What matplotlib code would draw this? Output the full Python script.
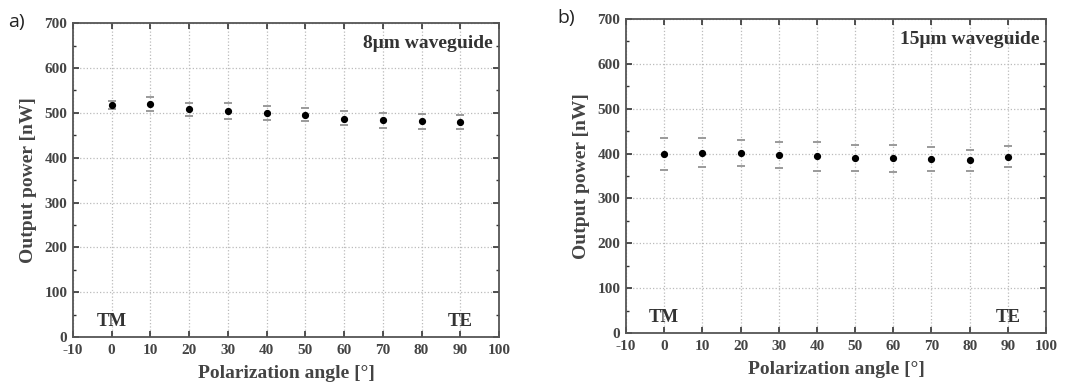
import matplotlib
matplotlib.use("Agg")
import matplotlib.pyplot as plt
import numpy as np
from matplotlib.ticker import MultipleLocator

plt.rcParams["axes.unicode_minus"] = False

angles = [0, 10, 20, 30, 40, 50, 60, 70, 80, 90]

p8 = [518, 519, 508, 503, 499, 495, 487, 483, 481, 479]
p8_hi = [527, 535, 523, 521, 516, 510, 503, 500, 498, 496]
p8_lo = [509, 503, 492, 486, 485, 482, 472, 467, 465, 465]

p15 = [399, 402, 401, 397, 394, 391, 391, 387, 385, 392]
p15_hi = [434, 434, 430, 425, 425, 420, 420, 414, 408, 417]
p15_lo = [364, 369, 372, 367, 362, 362, 359, 362, 362, 369]

panels = [
    dict(label="a)", title="8\u03bcm waveguide", y=p8, hi=p8_hi, lo=p8_lo,
         pos=[0.068, 0.140, 0.398, 0.801], lab_xy=(0.008, 0.945)),
    dict(label="b)", title="15\u03bcm waveguide", y=p15, hi=p15_hi, lo=p15_lo,
         pos=[0.5845, 0.1505, 0.3922, 0.801], lab_xy=(0.52, 0.955)),
]

fig = plt.figure(figsize=(10.71, 3.92), dpi=100)
serif = "Liberation Serif"
tc = "#444444"

for p in panels:
    ax = fig.add_axes(p["pos"])
    y = np.array(p["y"]); hi = np.array(p["hi"]); lo = np.array(p["lo"])
    ax.errorbar(angles, y, yerr=[y - lo, hi - y], fmt="none", ecolor="#9a9a9a",
                elinewidth=0, capsize=3, capthick=1.4)
    ax.plot(angles, y, "o", color="black", ms=4.2, zorder=5)
    ax.set_xlim(-10, 100)
    ax.set_ylim(0, 700)
    ax.xaxis.set_major_locator(MultipleLocator(10))
    ax.yaxis.set_major_locator(MultipleLocator(100))
    ax.yaxis.set_minor_locator(MultipleLocator(50))
    ax.tick_params(which="both", direction="in", top=True, right=True,
                   color="#333333")
    ax.tick_params(which="major", length=4, width=1.2, labelsize=11,
                   labelcolor=tc)
    ax.tick_params(axis="x", which="major", pad=5)
    ax.tick_params(axis="y", which="major", pad=4)
    ax.tick_params(which="minor", length=2.5, width=1)
    for lbl in ax.get_xticklabels() + ax.get_yticklabels():
        lbl.set_fontfamily(serif)
        lbl.set_fontweight("bold")
    ax.grid(True, which="major", linestyle=":", color="#bbbbbb", linewidth=0.9)
    for s in ax.spines.values():
        s.set_color("#555555")
        s.set_linewidth(1.3)
    ax.set_xlabel("Polarization angle [\u00b0]", fontfamily=serif, fontweight="bold",
                  fontsize=14, color=tc, labelpad=6)
    ax.set_ylabel("Output power [nW]", fontfamily=serif, fontweight="bold",
                  fontsize=14, color=tc, labelpad=5)
    ax.text(0.985, 0.935, p["title"], transform=ax.transAxes, ha="right", va="center",
            fontfamily=serif, fontweight="bold", fontsize=14, color="#333333")
    ax.text(0, 35, "TM", ha="center", va="center", fontfamily=serif,
            fontweight="bold", fontsize=13.5, color="#333333")
    ax.text(90, 35, "TE", ha="center", va="center", fontfamily=serif,
            fontweight="bold", fontsize=13.5, color="#333333")
    fig.text(p["lab_xy"][0], p["lab_xy"][1], p["label"], fontsize=14,
             fontfamily="Open Sans", color="#222222", va="center")

fig.savefig("out.png", dpi=100, facecolor="white")
